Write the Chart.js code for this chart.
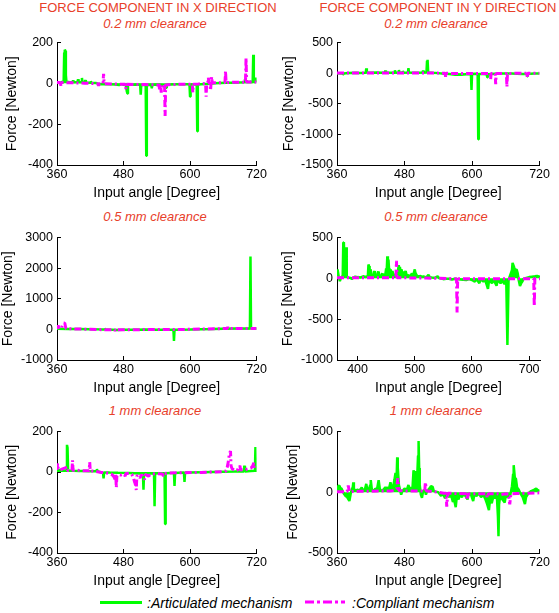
<!DOCTYPE html>
<html>
<head>
<meta charset="utf-8">
<script src="https://cdn.jsdelivr.net/npm/chart.js@4.4.1/dist/chart.umd.min.js"></script>
<style>
  body { margin: 0; background: #fff; width: 559px; height: 613px; position: relative; overflow: hidden;
         font-family: "Liberation Sans", Arial, sans-serif; }
  .head { position: absolute; color: #e8402a; font-size: 13px; white-space: nowrap; transform: translate(-50%, -50%); }
  .sub { font-style: italic; }
  .leg { position: absolute; font-size: 14px; font-style: italic; white-space: nowrap; transform: translateY(-50%); }
  .box { position: absolute; }
</style>
</head>
<body>

<div class="head" style="left:158px;top:7px">FORCE COMPONENT IN X DIRECTION</div>
<div class="head" style="left:438px;top:7px">FORCE COMPONENT IN Y DIRECTION</div>
<div class="head sub" style="left:155px;top:23px">0.2 mm clearance</div>
<div class="head sub" style="left:436px;top:23px">0.2 mm clearance</div>
<div class="head sub" style="left:155px;top:216px">0.5 mm clearance</div>
<div class="head sub" style="left:436px;top:216px">0.5 mm clearance</div>
<div class="head sub" style="left:155px;top:410px">1 mm clearance</div>
<div class="head sub" style="left:436px;top:410px">1 mm clearance</div>

<div id="p1" class="box"><canvas></canvas></div>
<div id="p2" class="box"><canvas></canvas></div>
<div id="p3" class="box"><canvas></canvas></div>
<div id="p4" class="box"><canvas></canvas></div>
<div id="p5" class="box"><canvas></canvas></div>
<div id="p6" class="box"><canvas></canvas></div>

<div style="position:absolute;left:100px;top:601px;width:42px;height:3px;background:#00ff00"></div>
<div class="leg" style="left:147px;top:603px">:Articulated mechanism</div>
<svg style="position:absolute;left:305px;top:598px" width="40" height="8">
  <line x1="0" y1="4" x2="40" y2="4" stroke="#ff00ff" stroke-width="3" stroke-dasharray="9 3 3 3"/>
</svg>
<div class="leg" style="left:352px;top:603px">:Compliant mechanism</div>

<script>
// ---- data: input angle [deg] and force [N] ----

// X direction, 0.2 mm
const angXArt02 = [360,366,368,372,373,374,375,376,377,382,388,389,390,397,398,399,404,405,406,410,411,412,420,421,422,430,436,445,455,465,472,476,480,484,486,487,488,495,504,510,511,512,520,521,522,530,531,532,540,548,556,557,558,565,575,585,595,599,600,601,607,612,613,614,620,628,636,645,655,665,675,685,695,698,699,700,707,708,709,713,714,715,718,719,720];
const fXArt02   = [3,2,6,5,150,165,160,40,8,6,5,14,5,6,20,6,5,26,5,4,16,4,3,10,3,2,-4,-3,-5,-6,-8,-4,-7,-6,-40,-50,-6,-7,-6,-8,-55,-8,-7,-355,-8,-7,-25,-7,-6,-8,-10,-22,-8,-6,-5,-5,-5,-6,-65,-6,-6,-6,-235,-6,-4,-3,-2,0,2,3,3,4,5,6,20,6,6,12,6,6,140,6,8,28,8];
const angXComp02 = [360,366,367,368,385,410,430,434,435,436,443,444,445,460,475,483,484,485,500,520,530,544,545,546,547,548,549,554,555,556,565,580,595,604,605,606,615,622,628,629,630,632,633,634,636,637,638,639,640,650,663,664,665,680,695,700,701,702,712,720];
const fXComp02   = [4,4,-12,4,3,1,-2,-2,-12,-2,-2,46,-2,-3,-4,-5,-28,-5,-6,-6,-7,-8,-30,-8,-8,-45,-8,-8,-160,-8,-6,-5,-4,-4,-45,-4,-3,-2,-1,-65,-1,5,28,5,-2,-35,3,32,3,3,4,60,4,5,5,6,125,6,6,7];

// Y direction, 0.2 mm
const angYArt02 = [360,370,371,372,380,395,400,411,412,413,420,430,440,445,446,447,455,462,463,464,469,470,471,476,477,478,486,487,488,495,505,512,513,514,519,520,521,522,530,540,550,560,570,580,590,598,599,600,605,610,611,612,620,626,627,628,640,650,660,670,680,690,697,698,699,710,720];
const fYArt02   = [0,-5,-20,-5,2,5,3,5,78,5,8,10,8,10,41,10,8,8,45,8,10,52,10,8,36,8,10,82,10,8,8,10,41,10,10,200,218,12,5,0,-10,-15,-25,-25,-18,-15,-275,-15,-12,-15,-1080,-15,-15,-20,-67,-20,-10,-5,-8,-5,-10,-15,-15,-52,-15,-5,-5];
const angYComp02 = [360,400,440,480,520,540,552,553,554,570,590,610,632,633,634,641,642,643,661,662,663,680,697,698,699,720];
const fYComp02   = [2,3,3,3,2,0,-3,-60,-3,-5,-5,-5,-5,-100,-5,-5,-181,-5,-5,-223,-5,-3,-3,-60,-3,-3];

// X direction, 0.5 mm
const angXArt05 = [360,380,400,420,440,445,446,447,460,470,480,500,520,540,560,570,571,572,580,600,620,640,660,680,700,708,709,710,720];
const fXArt05   = [20,15,10,5,0,0,30,0,-10,-20,-10,-10,-5,-10,-10,-10,-380,-10,-10,-5,5,10,20,25,25,25,2380,25,25];
const angXComp05 = [360,362,364,368,370,372,374,376,380,400,420,440,464,465,466,470,500,540,580,620,650,667,668,669,700,720];
const fXComp05   = [20,130,20,40,150,200,206,30,20,10,5,-10,-10,-50,-10,-10,-10,-5,-5,10,20,30,80,30,25,25];

// Y direction, 0.5 mm
const angYArt05 = [364,365,367,369,371,374,375,376,377,378,379,380,381,383,388,390,392,396,400,405,410,414,418,419,420,421,422,423,426,429,430,433,436,437,440,443,444,447,448,450,451,452,453,454,455,456,458,459,461,462,464,467,470,472,473,474,475,477,478,480,482,484,486,489,492,495,497,500,501,503,506,510,512,515,520,524,526,530,535,540,542,545,550,555,560,565,570,580,590,595,600,605,607,610,613,615,620,623,628,630,635,638,643,645,650,653,657,660,662,664,666,668,670,671,672,674,676,678,680,682,684,686,688,690,695,700,705,710,714,718,719];
const fYArt05   = [20,110,20,-35,10,30,440,445,200,370,360,380,30,10,5,-10,5,20,15,10,25,15,30,170,150,80,110,30,15,90,40,20,85,30,20,60,30,50,20,120,100,270,180,230,120,80,110,40,90,60,30,50,60,160,100,140,90,110,60,80,50,90,30,40,20,60,30,110,70,40,20,30,15,25,10,45,15,10,5,25,5,0,-10,-5,-5,-15,-5,-15,-20,-10,-20,-40,-10,-30,-60,-10,-40,-15,-130,-20,-60,-20,-90,-20,-60,-30,-70,-40,-817,-30,20,60,100,190,170,130,100,110,60,-30,-95,-60,-40,-10,5,15,20,25,30,20,15];
const angYComp05 = [364,380,400,420,440,460,467,468,469,480,500,520,540,560,573,574,575,600,620,640,660,680,700,708,709,710,719];
const fYComp05   = [8,8,8,8,8,8,8,215,8,6,5,3,0,-3,-5,-418,-5,-5,-5,-5,-5,-5,-5,-5,-342,-5,-5];

// X direction, 1 mm
const angXArt1 = [360,365,370,377,378,379,380,390,400,410,420,431,432,433,440,443,444,445,455,470,490,500,510,515,516,517,525,535,536,537,545,554,555,556,565,571,572,573,580,589,590,591,600,620,640,660,680,690,697,698,699,710,717,718,719,720];
const fXArt1   = [10,10,8,8,134,120,8,6,5,5,4,4,15,4,-2,-2,-31,-2,-3,-4,-5,-6,-7,-7,-88,-7,-7,-7,-169,-7,-6,-6,-257,-6,-5,-5,-69,-5,-4,-3,-49,-3,-2,-1,0,1,2,3,3,31,3,5,6,123,6,8];
const angXComp1 = [360,361,362,364,370,375,378,379,387,388,389,395,400,410,418,419,420,430,440,450,458,460,463,465,466,467,468,470,475,480,483,484,490,495,498,500,501,503,504,507,510,512,518,519,525,530,540,550,552,553,560,580,600,620,640,660,665,667,669,671,673,674,676,680,685,690,691,700,710,713,715,716,720];
const fXComp1   = [10,42,20,8,15,20,25,8,8,58,8,10,8,6,6,49,6,3,-2,-5,-10,-15,-25,-38,-15,-77,-20,-12,-15,-10,-20,-8,-8,-12,-30,-50,-57,-89,-20,-15,-30,-12,-38,-12,-20,-10,-8,-10,-20,-8,-5,-4,-3,-2,0,2,5,23,50,90,103,30,15,10,8,31,10,12,20,30,46,15,15];

// Y direction, 1 mm
const angYArt1 = [360,362,364,366,368,370,372,375,378,382,384,386,388,389,390,393,396,400,404,406,410,412,414,416,419,420,422,425,428,431,434,436,438,442,446,448,450,452,455,457,460,462,464,466,467,468,470,472,474,476,480,484,487,489,492,494,496,498,500,502,504,505,506,507,509,511,513,516,518,520,524,527,530,532,535,540,545,548,552,555,560,562,566,568,571,573,576,578,582,585,588,592,594,598,602,604,608,612,616,620,624,627,630,632,635,638,641,644,646,647,648,650,654,658,660,664,668,671,673,674,676,678,680,683,686,690,694,696,700,705,710,714,716,720];
const fYArt1   = [30,50,56,35,30,10,-10,-30,-40,-72,-20,20,40,82,30,10,20,15,40,10,30,69,20,10,60,100,20,10,30,20,100,30,10,20,40,30,40,20,82,40,50,100,159,130,287,200,60,20,-20,10,30,20,60,20,40,20,180,150,172,60,300,422,200,60,-20,-46,10,20,-20,10,30,50,44,10,5,0,-30,-10,-50,-20,-40,-10,-80,-60,-123,-30,-60,-20,-40,-10,-30,-59,-10,-20,-72,-20,-30,-10,-40,-20,-60,-100,-148,-60,-90,-30,-50,-20,-200,-361,-100,-30,-60,-84,-30,-40,-20,50,150,223,120,110,40,20,-10,-40,-97,-40,-10,10,20,31,20,10];
const angYComp1 = [360,370,378,380,382,400,420,440,455,462,466,468,470,480,500,510,516,517,519,530,540,550,554,555,557,570,590,591,593,610,626,627,629,645,650,660,665,667,669,680,700,720];
const fYComp1   = [5,5,5,56,5,8,8,10,10,15,30,115,15,10,10,10,10,82,10,5,0,-8,-8,-118,-8,-10,-12,-64,-12,-12,-12,-46,-12,-12,-20,-12,-15,-100,-12,-10,-8,-5];

// tick labels
const xTicksDeg  = [360, 480, 600, 720];
const xTicksDeg4 = [400, 500, 600, 700];
const yTicksX02 = [-400, -200, 0, 200];
const yTicksY02 = [-1500, -1000, -500, 0, 500];
const yTicksX05 = [-1000, 0, 1000, 2000, 3000];
const yTicksY05 = [-1000, -500, 0, 500];
const yTicksX1  = [-400, -200, 0, 200];
const yTicksY1  = [-500, 0, 500];

// ---- layout ----
Chart.defaults.font.family = '"Liberation Sans", Arial, sans-serif';
Chart.defaults.color = '#000';

const padT = 10, padR = 16, xH = 37;

const panels = [
  { id: 'p1', plot: [57, 37, 257, 165],  xr: [360, 720], xt: xTicksDeg,  yr: [-400, 200],   yt: yTicksX02, yW: 53,
    art: [angXArt02, fXArt02], comp: [angXComp02, fXComp02] },
  { id: 'p2', plot: [337, 37, 540, 165], xr: [360, 720], xt: xTicksDeg,  yr: [-1500, 500],  yt: yTicksY02, yW: 56,
    art: [angYArt02, fYArt02], comp: [angYComp02, fYComp02] },
  { id: 'p3', plot: [57, 232, 257, 360], xr: [360, 720], xt: xTicksDeg,  yr: [-1000, 3000], yt: yTicksX05, yW: 57,
    art: [angXArt05, fXArt05], comp: [angXComp05, fXComp05] },
  { id: 'p4', plot: [337, 232, 540, 360],xr: [364, 719], xt: xTicksDeg4, yr: [-1000, 500],  yt: yTicksY05, yW: 57,
    art: [angYArt05, fYArt05], comp: [angYComp05, fYComp05] },
  { id: 'p5', plot: [57, 426, 257, 553], xr: [360, 720], xt: xTicksDeg,  yr: [-400, 200],   yt: yTicksX1,  yW: 53,
    art: [angXArt1, fXArt1], comp: [angXComp1, fXComp1] },
  { id: 'p6', plot: [337, 426, 540, 553],xr: [360, 720], xt: xTicksDeg,  yr: [-500, 500],   yt: yTicksY1,  yW: 52,
    art: [angYArt1, fYArt1], comp: [angYComp1, fYComp1] }
];

function toPoints(angles, forces) {
  return angles.map((a, i) => ({ x: a, y: forces[i] }));
}

panels.forEach(p => {
  const [l, t, r, b] = p.plot;
  const box = document.getElementById(p.id);
  const canvas = box.querySelector('canvas');
  const w = p.yW + (r - l) + padR;
  const h = padT + (b - t) + xH;
  box.style.left = (l - p.yW) + 'px';
  box.style.top = (t - padT) + 'px';
  canvas.width = w;
  canvas.height = h;
  canvas.style.width = w + 'px';
  canvas.style.height = h + 'px';

  new Chart(canvas, {
    type: 'line',
    data: {
      datasets: [
        { // compliant mechanism, drawn on top
          data: toPoints(p.comp[0], p.comp[1]),
          borderColor: '#ff00ff',
          borderWidth: 3,
          borderDash: [7, 3, 2, 3],
          borderJoinStyle: 'bevel',
          pointRadius: 0,
          tension: 0,
          fill: false
        },
        { // articulated mechanism
          data: toPoints(p.art[0], p.art[1]),
          borderColor: '#00ff00',
          backgroundColor: '#00ff00',
          borderWidth: 2.5,
          borderJoinStyle: 'bevel',
          pointRadius: 0,
          tension: 0,
          fill: 'origin'
        }
      ]
    },
    options: {
      responsive: false,
      animation: false,
      events: [],
      layout: { padding: { left: 0, top: padT, right: padR, bottom: 0 } },
      plugins: { legend: { display: false }, tooltip: { enabled: false } },
      scales: {
        x: {
          type: 'linear',
          min: p.xr[0],
          max: p.xr[1],
          afterBuildTicks: s => { s.ticks = p.xt.map(v => ({ value: v })); },
          afterFit: s => { s.height = xH; },
          grid: { drawOnChartArea: false, tickLength: -4, color: '#000' },
          border: { color: '#000', width: 1 },
          ticks: { font: { size: 12.5 }, padding: 6, maxRotation: 0, autoSkip: false, callback: v => String(v) },
          title: { display: true, text: 'Input angle [Degree]', font: { size: 14 }, padding: 0 }
        },
        y: {
          min: p.yr[0],
          max: p.yr[1],
          afterBuildTicks: s => { s.ticks = p.yt.map(v => ({ value: v })); },
          afterFit: s => { s.width = p.yW; },
          grid: { drawOnChartArea: false, tickLength: -4, color: '#000' },
          border: { color: '#000', width: 1 },
          ticks: { font: { size: 12.5 }, padding: 8, autoSkip: false, callback: v => String(v) },
          title: { display: true, text: 'Force [Newton]', font: { size: 14 }, padding: 0 }
        }
      }
    }
  });
});
</script>
</body>
</html>
